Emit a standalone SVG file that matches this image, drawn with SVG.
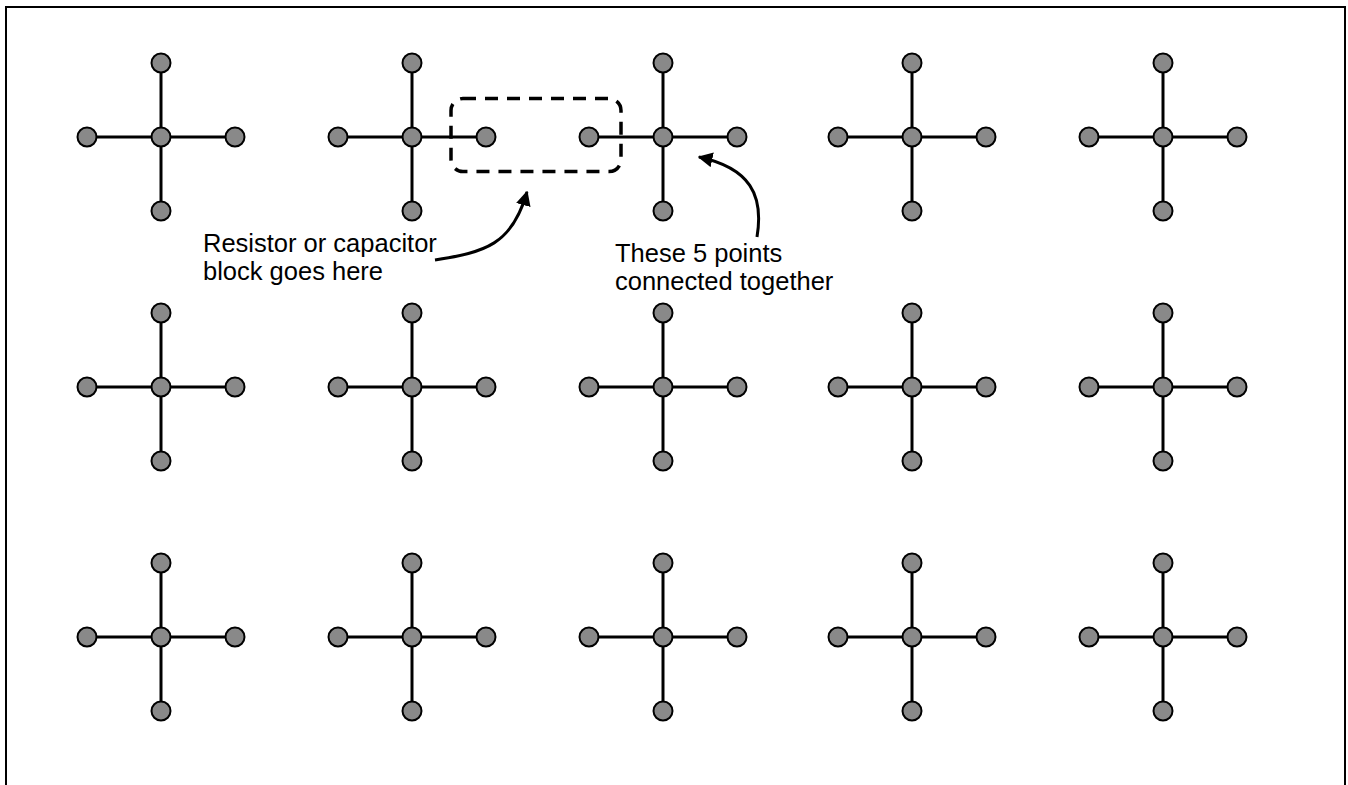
<svg xmlns="http://www.w3.org/2000/svg" width="1348" height="785" viewBox="0 0 1348 785">
<style>
.ln{stroke:#000;stroke-width:3;fill:none}
.pt{fill:#898989;stroke:#000;stroke-width:2}
.lbl{font-family:"Liberation Sans",Arial,sans-serif;font-size:25.5px;fill:#000}
.ar{stroke:#000;stroke-width:3;fill:none}
</style>
<defs>
<marker id="ah" viewBox="0 0 10 10" refX="9" refY="5" markerWidth="5" markerHeight="5" orient="auto" markerUnits="strokeWidth">
<path d="M0,0 L10,5 L0,10 Z" fill="#000"/>
</marker>
<g id="cross">
<line class="ln" x1="-74" y1="0" x2="74" y2="0"/>
<line class="ln" x1="0" y1="-74" x2="0" y2="74"/>
<circle class="pt" cx="0" cy="0" r="9.5"/>
<circle class="pt" cx="-74" cy="0" r="9.5"/>
<circle class="pt" cx="74" cy="0" r="9.5"/>
<circle class="pt" cx="0" cy="-74" r="9.5"/>
<circle class="pt" cx="0" cy="74" r="9.5"/>
</g>
</defs>
<rect x="0" y="0" width="1348" height="785" fill="#fff"/>
<rect x="6" y="7" width="1339" height="800" fill="none" stroke="#000" stroke-width="2"/>
<g id="n_r1c1"><use href="#cross" x="161" y="137"/></g>
<g id="n_r1c2"><use href="#cross" x="412" y="137"/></g>
<g id="n_r1c3"><use href="#cross" x="663" y="137"/></g>
<g id="n_r1c4"><use href="#cross" x="912" y="137"/></g>
<g id="n_r1c5"><use href="#cross" x="1163" y="137"/></g>
<g id="n_r2c1"><use href="#cross" x="161" y="387"/></g>
<g id="n_r2c2"><use href="#cross" x="412" y="387"/></g>
<g id="n_r2c3"><use href="#cross" x="663" y="387"/></g>
<g id="n_r2c4"><use href="#cross" x="912" y="387"/></g>
<g id="n_r2c5"><use href="#cross" x="1163" y="387"/></g>
<g id="n_r3c1"><use href="#cross" x="161" y="637"/></g>
<g id="n_r3c2"><use href="#cross" x="412" y="637"/></g>
<g id="n_r3c3"><use href="#cross" x="663" y="637"/></g>
<g id="n_r3c4"><use href="#cross" x="912" y="637"/></g>
<g id="n_r3c5"><use href="#cross" x="1163" y="637"/></g>
<g id="n_block"><rect x="451" y="98.5" width="170" height="73" rx="12" fill="none" stroke="#000" stroke-width="3.5" stroke-dasharray="13,9"/></g>
<g id="n_label1"><text class="lbl" x="203" y="251.5">Resistor or capacitor</text><text class="lbl" x="203" y="280">block goes here</text></g>
<g id="n_label2"><text class="lbl" x="615" y="261.5">These 5 points</text><text class="lbl" x="615" y="290">connected together</text></g>
<g id="connectors">
<path class="ar" d="M435,260 C485,252 512,245 527,192" marker-end="url(#ah)"/>
<path class="ar" d="M757,237 C764,195 750,168 699,157" marker-end="url(#ah)"/>
</g>
</svg>
